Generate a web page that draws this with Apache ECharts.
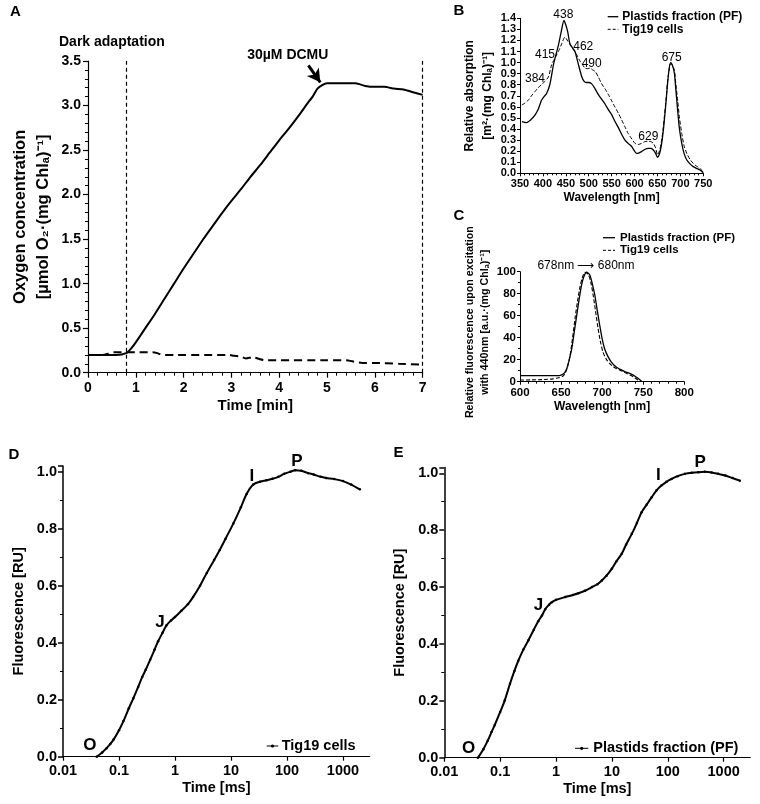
<!DOCTYPE html>
<html><head><meta charset="utf-8">
<script src="https://cdn.jsdelivr.net/npm/echarts@6/dist/echarts.min.js"></script>
<style>html,body{margin:0;padding:0;background:#fff}#c{width:760px;height:804px}</style>
</head><body><div id="c"></div>
<script>
// ---------- Panel A: oxygen concentration vs time ----------
const aTimeSolid = [0,0.2,0.4,0.6,0.8,0.9,1.0,1.2,1.4,1.6,1.8,2.0,2.2,2.4,2.6,2.8,3.0,3.2,3.4,3.6,3.8,4.0,4.2,4.4,4.6,4.7,4.8,4.9,5.0,5.2,5.4,5.6,5.8,6.0,6.2,6.4,6.6,6.8,7.0];
const aO2Solid   = [0.2,0.2,0.2,0.2,0.22,0.27,0.34,0.50,0.66,0.83,1.00,1.17,1.33,1.49,1.64,1.79,1.93,2.06,2.20,2.33,2.47,2.61,2.74,2.88,3.03,3.10,3.19,3.23,3.25,3.25,3.25,3.25,3.22,3.21,3.21,3.19,3.18,3.15,3.12];
const aTimeDashed = [0,0.3,0.4,0.5,0.7,1.0,1.35,1.45,1.55,1.8,2.5,2.95,3.05,3.2,3.3,3.45,3.6,3.7,4.0,5.0,5.4,5.6,5.8,6.0,6.5,7.0];
const aO2Dashed   = [0.2,0.2,0.21,0.23,0.23,0.23,0.23,0.22,0.2,0.2,0.2,0.2,0.19,0.18,0.16,0.175,0.15,0.14,0.14,0.14,0.14,0.12,0.11,0.11,0.1,0.09];

// ---------- Panel B: absorption spectra ----------
const bWavePF = [354,364,374,383,390,397,404,408,415,423,429,434,440,446,450,454,459,465,470,477,485,490,495,500,506,513,521,528,535,542,550,557,565,572,579,586,594,600,605,610,615,622,630,636,641,646,650,654,658,662,665,669,672,676,679,683,687,690,694,698,703,708,714,721,728,735,743,750];
const bAbsPF  = [0.467,0.458,0.485,0.527,0.58,0.66,0.70,0.72,0.80,0.98,1.08,1.16,1.28,1.38,1.34,1.28,1.17,1.13,1.10,0.99,0.87,0.83,0.82,0.82,0.81,0.77,0.71,0.67,0.63,0.58,0.53,0.47,0.41,0.35,0.30,0.27,0.24,0.20,0.18,0.185,0.196,0.215,0.226,0.225,0.21,0.18,0.145,0.17,0.24,0.36,0.48,0.66,0.81,0.96,1.0,0.97,0.90,0.76,0.57,0.40,0.27,0.18,0.12,0.085,0.06,0.045,0.03,0.005];
const bWaveTig = [354,361,368,375,383,390,397,404,412,419,425,430,436,441,448,455,463,469,474,480,485,492,498,503,508,514,521,528,536,543,550,557,565,572,579,586,594,601,608,615,622,630,636,641,646,650,654,658,662,665,669,672,676,679,683,687,690,694,698,703,708,714,721,728,735,743,750];
const bAbsTig  = [0.617,0.635,0.66,0.70,0.74,0.775,0.80,0.83,0.87,0.98,1.03,1.07,1.12,1.17,1.23,1.19,1.14,1.10,1.07,1.02,0.99,0.95,0.945,0.95,0.935,0.92,0.87,0.81,0.76,0.71,0.655,0.60,0.54,0.48,0.42,0.36,0.31,0.27,0.26,0.27,0.285,0.29,0.285,0.27,0.23,0.166,0.2,0.27,0.39,0.51,0.68,0.83,0.95,0.99,0.975,0.93,0.81,0.66,0.50,0.36,0.25,0.18,0.125,0.09,0.065,0.045,0.005];
const bPeakTexts = ['438','415','462','490','384','675','629'];

// ---------- Panel C: fluorescence emission spectra ----------
const cWavePF = [600,610,620,630,640,645,650,654,657,660,663,666,669,672,675,678,681,685,688,691,694,697,700,703,707,711,716,720,724,728,732,736,740,744,748];
const cFluPF  = [5.5,5.5,5.5,5.5,5.5,5.5,6,8,12,20,30,45,60,75,88,96,99.5,97,89,79,65,51.5,39,30,23,18,14,12,10.5,9,8,6.7,5,3,0.5];
const cWaveTig = [600,615,630,640,647,652,655,658,661,664,667,670,673,676,679,683,686,689,692,695,698,701,705,709,713,717,722,726,730,734,738,742,746];
const cFluTig  = [1.5,1.7,2,2.6,3.6,5,7.6,14,24,40,57.6,73,86,95,99.5,97.6,91,79,64,48.5,36,27,20.5,16.7,14,12,10.5,9,7.5,6,4.5,2.4,0];

// ---------- Panel D: OJIP, Tig19 cells ----------
const dTime  = [0.04,0.05,0.06,0.07,0.08,0.1,0.12,0.15,0.18,0.22,0.26,0.3,0.36,0.43,0.5,0.6,0.7,0.85,1.0,1.3,1.7,2.1,2.8,3.7,5,6.3,8,11,15,19,25,33,43,55,70,90,115,140,180,240,300,400,500,700,1000,1400,2000];
const dFluor = [0.0,0.015,0.03,0.045,0.06,0.093,0.125,0.17,0.205,0.245,0.28,0.305,0.34,0.375,0.405,0.435,0.46,0.478,0.49,0.512,0.535,0.56,0.6,0.645,0.69,0.725,0.765,0.818,0.875,0.922,0.955,0.965,0.97,0.975,0.982,0.993,1.0,1.005,1.003,0.995,0.99,0.982,0.978,0.974,0.967,0.955,0.938];

// ---------- Panel E: OJIP, plastids fraction ----------
const eTime  = [0.04,0.05,0.06,0.07,0.08,0.1,0.12,0.15,0.18,0.21,0.26,0.32,0.4,0.48,0.56,0.64,0.75,0.84,1.0,1.46,2.0,2.5,3.3,4.4,5.5,6.6,8,10,12,15,18,22.7,28,34,42,51.6,63,77,95,117,150,203,270,352,460,610,800,1070,1450,1950];
const eFluor = [0.0,0.03,0.06,0.09,0.115,0.161,0.2,0.26,0.305,0.34,0.38,0.413,0.45,0.48,0.5,0.522,0.538,0.547,0.555,0.565,0.572,0.578,0.587,0.6,0.61,0.623,0.64,0.665,0.69,0.717,0.75,0.787,0.825,0.863,0.89,0.916,0.94,0.957,0.97,0.98,0.99,0.998,1.002,1.004,1.005,1.003,0.998,0.992,0.983,0.974];
const logTickLabels = ['0.01','0.1','1','10','100','1000'];

const zip = (xs, ys) => xs.map((x, i) => [x, ys[i]]);
const FF = '"Liberation Sans", Arial, sans-serif';
const BLACK = '#000';

function axisBase(o) {
  const a = {
    gridIndex: o.grid, type: o.type || 'value', min: o.min, max: o.max,
    axisLine: { show: true, onZero: false, lineStyle: { color: BLACK, width: o.lw || 1.2 } },
    axisTick: { show: true, length: o.tick || 4, lineStyle: { color: BLACK, width: o.lw || 1.2 } },
    minorTick: { show: !!o.minor, splitNumber: o.minor || 5, length: o.minorLen || 2.5, lineStyle: { color: BLACK, width: 1 } },
    splitLine: { show: false }, minorSplitLine: { show: false },
    axisLabel: { color: BLACK, fontFamily: FF, fontWeight: 'bold', fontSize: o.fs, margin: o.margin, showMaxLabel: o.showMax !== false ? null : false, formatter: o.fmt },
    name: o.name, nameLocation: 'middle', nameGap: o.gap,
    nameTextStyle: { color: BLACK, fontFamily: FF, fontWeight: 'bold', fontSize: o.nfs, lineHeight: o.nlh, padding: o.npad || 0 }
  };
  if (o.interval !== undefined) a.interval = o.interval;
  if (o.rotate) a.nameRotate = 90;
  if (o.type === 'log') a.logBase = 10;
  return a;
}
const fix1 = v => v.toFixed(1);
const logFmt = v => { const e = Math.round(Math.log10(v)); return logTickLabels[e + 2] || ''; };

const chart = echarts.init(document.getElementById('c'), null, { renderer: 'canvas' });

const option = {
  animation: false,
  backgroundColor: '#fff',
  grid: [
    { left: 88, top: 61, width: 334.6, height: 311.7 },
    { left: 520, top: 18.3, width: 183.3, height: 155 },
    { left: 520, top: 271.7, width: 164.3, height: 110 },
    { left: 63, top: 466, width: 306.7, height: 290.7 },
    { left: 444.3, top: 467.6, width: 306, height: 290.1 }
  ],
  xAxis: [
    axisBase({ grid: 0, min: 0, max: 7, interval: 1, minor: 5, tick: 5, minorLen: 3, fs: 14, margin: 8, name: 'Time [min]', gap: 26, nfs: 15 }),
    axisBase({ grid: 1, min: 350, max: 750, interval: 50, minor: 5, tick: 3, minorLen: 2, fs: 11, margin: 5, name: 'Wavelength [nm]', gap: 18, nfs: 12, lw: 1 }),
    axisBase({ grid: 2, min: 600, max: 800, interval: 50, minor: 5, tick: 3, minorLen: 2, fs: 11.5, margin: 5, name: 'Wavelength [nm]', gap: 19, nfs: 12, lw: 1 }),
    axisBase({ grid: 3, type: 'log', min: 0.01, max: 3000, tick: 4, fs: 14.5, margin: 7, name: 'Time [ms]', gap: 24, nfs: 14.5, fmt: logFmt, showMax: false }),
    axisBase({ grid: 4, type: 'log', min: 0.01, max: 3000, tick: 4, fs: 14.5, margin: 7, name: 'Time [ms]', gap: 24, nfs: 14.5, fmt: logFmt, showMax: false })
  ],
  yAxis: [
    axisBase({ grid: 0, min: 0, max: 3.5, interval: 0.5, minor: 5, tick: 5, minorLen: 3, fs: 14, margin: 7, fmt: fix1, rotate: true,
      name: 'Oxygen concentration\n[µmol O₂·(mg Chlₐ)⁻¹]', gap: 33, nfs: 16.5, nlh: 23 }),
    axisBase({ grid: 1, min: 0, max: 1.4, interval: 0.1, tick: 3, fs: 11, margin: 4, fmt: fix1, rotate: true, lw: 1,
      name: 'Relative absorption\n[m²·(mg Chlₐ)⁻¹]', gap: 19, nfs: 12, nlh: 18 }),
    axisBase({ grid: 2, min: 0, max: 100, interval: 20, minor: 2, tick: 3, minorLen: 2, fs: 11.5, margin: 4, rotate: true, lw: 1,
      name: 'Relative fluorescence upon excitation\nwith 440nm [a.u.·(mg Chlₐ)⁻¹]', gap: 27, nfs: 10.7, nlh: 15, npad: [0, 0, 0, 9] }),
    axisBase({ grid: 3, min: 0, max: 1.02, interval: 0.2, minor: 2, tick: 5, minorLen: 3, fs: 14.5, margin: 6, fmt: fix1, rotate: true, showMax: false,
      name: 'Fluorescence [RU]', gap: 37, nfs: 14.5, lw: 1.5 }),
    axisBase({ grid: 4, min: 0, max: 1.02, interval: 0.2, minor: 2, tick: 5, minorLen: 3, fs: 14.5, margin: 6, fmt: fix1, rotate: true, showMax: false,
      name: 'Fluorescence [RU]', gap: 37, nfs: 14.5, lw: 1.5 })
  ],
  series: [
    { name: 'O2 solid', type: 'line', xAxisIndex: 0, yAxisIndex: 0, data: zip(aTimeSolid, aO2Solid), symbol: 'none', smooth: 0.2,
      lineStyle: { color: BLACK, width: 2 },
      markLine: { silent: true, symbol: ['none', 'arrow'], symbolSize: [11, 13], label: { show: false },
        lineStyle: { color: BLACK, width: 3, type: 'solid' },
        data: [[{ coord: [4.61, 3.45] }, { coord: [4.86, 3.26] }]] } },
    { name: 'O2 dashed', type: 'line', xAxisIndex: 0, yAxisIndex: 0, data: zip(aTimeDashed, aO2Dashed), symbol: 'none', smooth: 0.2,
      lineStyle: { color: BLACK, width: 2, type: [8, 5] },
      markLine: { silent: true, symbol: 'none', label: { show: false },
        lineStyle: { color: BLACK, width: 1.2, type: [4, 3] },
        data: [{ xAxis: 0.8 }, { xAxis: 7 }] } },
    { name: 'Plastids fraction (PF)', type: 'line', xAxisIndex: 1, yAxisIndex: 1, data: zip(bWavePF, bAbsPF), symbol: 'none', smooth: 0.25,
      lineStyle: { color: BLACK, width: 1.3 } },
    { name: 'Tig19 cells', type: 'line', xAxisIndex: 1, yAxisIndex: 1, data: zip(bWaveTig, bAbsTig), symbol: 'none', smooth: 0.25,
      lineStyle: { color: BLACK, width: 1, type: [4, 2] } },
    { name: 'Plastids fraction (PF) C', type: 'line', xAxisIndex: 2, yAxisIndex: 2, data: zip(cWavePF, cFluPF), symbol: 'none', smooth: 0.25,
      lineStyle: { color: BLACK, width: 1.3 } },
    { name: 'Tig19 cells C', type: 'line', xAxisIndex: 2, yAxisIndex: 2, data: zip(cWaveTig, cFluTig), symbol: 'none', smooth: 0.25,
      lineStyle: { color: BLACK, width: 1.1, type: [4, 2] } },
    { name: 'Tig19 cells D', type: 'line', xAxisIndex: 3, yAxisIndex: 3, data: zip(dTime, dFluor), smooth: 0.3,
      symbol: 'circle', symbolSize: 2.5, showAllSymbol: true, itemStyle: { color: BLACK },
      lineStyle: { color: BLACK, width: 2 } },
    { name: 'Plastids fraction (PF) E', type: 'line', xAxisIndex: 4, yAxisIndex: 4, data: zip(eTime, eFluor), smooth: 0.3,
      symbol: 'circle', symbolSize: 2.5, showAllSymbol: true, itemStyle: { color: BLACK },
      lineStyle: { color: BLACK, width: 2 } }
  ]
};
chart.setOption(option);

// ---------- annotations, anchored in data coordinates ----------
const annotations = [
  { g: 0, at: [0.50, 3.71], text: 'Dark adaptation', font: 'bold 14px ' + FF },
  { g: 0, at: [4.18, 3.57], text: '30µM DCMU', font: 'bold 14px ' + FF },
  { g: 1, at: [444.5, 1.43], text: bPeakTexts[0], font: '12px ' + FF },
  { g: 1, at: [404.5, 1.07], text: bPeakTexts[1], font: '12px ' + FF },
  { g: 1, at: [488.1, 1.143], text: bPeakTexts[2], font: '12px ' + FF },
  { g: 1, at: [506.4, 0.993], text: bPeakTexts[3], font: '12px ' + FF },
  { g: 1, at: [382.7, 0.852], text: bPeakTexts[4], font: '12px ' + FF },
  { g: 1, at: [681, 1.044], text: bPeakTexts[5], font: '12px ' + FF },
  { g: 1, at: [630, 0.33], text: bPeakTexts[6], font: '12px ' + FF },
  { g: 2, at: [680.3, 105.2], text: '678nm ⟶ 680nm', font: '12px ' + FF },
  { g: 3, at: [0.0303, 0.041], text: 'O', font: 'bold 17px ' + FF },
  { g: 3, at: [0.54, 0.471], text: 'J', font: 'bold 17px ' + FF },
  { g: 3, at: [23.7, 0.985], text: 'I', font: 'bold 17px ' + FF },
  { g: 3, at: [151, 1.037], text: 'P', font: 'bold 17px ' + FF },
  { g: 4, at: [0.0272, 0.034], text: 'O', font: 'bold 17px ' + FF },
  { g: 4, at: [0.486, 0.536], text: 'J', font: 'bold 17px ' + FF },
  { g: 4, at: [68, 0.992], text: 'I', font: 'bold 17px ' + FF },
  { g: 4, at: [380, 1.039], text: 'P', font: 'bold 17px ' + FF }
];
function txt(x, y, text, font, align) {
  return { type: 'text', x: x, y: y, silent: true,
    style: { text: text, font: font, fill: BLACK, textAlign: align || 'center', textVerticalAlign: 'middle', align: align || 'center', verticalAlign: 'middle' } };
}
function seg(x1, y1, x2, y2, w, dash) {
  return { type: 'line', silent: true, shape: { x1: x1, y1: y1, x2: x2, y2: y2 }, style: { stroke: BLACK, lineWidth: w, lineDash: dash || null } };
}
const graphics = [];
annotations.forEach(a => {
  const p = chart.convertToPixel({ gridIndex: a.g }, a.at);
  graphics.push(txt(p[0], p[1], a.text, a.font));
});
// panel letters
const letterFont = 'bold 15px ' + FF;
graphics.push(txt(15.5, 12, 'A', letterFont), txt(459, 11, 'B', letterFont), txt(459, 216, 'C', letterFont),
  txt(14, 455, 'D', letterFont), txt(398.5, 453, 'E', letterFont));
// legends
const lgB = 'bold 12px ' + FF, lgC = 'bold 11.5px ' + FF, lgD = 'bold 14.5px ' + FF;
graphics.push(
  seg(607.7, 16.7, 618.3, 16.7, 1.3), txt(622.3, 16.7, 'Plastids fraction (PF)', lgB, 'left'),
  seg(607.7, 29.3, 618.3, 29.3, 1, [3, 2]), txt(622.3, 29.3, 'Tig19 cells', lgB, 'left'),
  seg(603, 237.7, 615, 237.7, 1.3), txt(620, 237.7, 'Plastids fraction (PF)', lgC, 'left'),
  seg(603, 250.3, 615, 250.3, 1, [3, 2]), txt(620, 250.3, 'Tig19 cells', lgC, 'left'),
  seg(266.7, 746, 278.3, 746, 1), { type: 'circle', silent: true, shape: { cx: 272.5, cy: 746, r: 1.6 }, style: { fill: BLACK } },
  txt(281.7, 746, 'Tig19 cells', lgD, 'left'),
  seg(575, 748.3, 588.3, 748.3, 1), { type: 'circle', silent: true, shape: { cx: 581.7, cy: 748.3, r: 1.6 }, style: { fill: BLACK } },
  txt(593.3, 748.3, 'Plastids fraction (PF)', lgD, 'left')
);
chart.setOption({ graphic: graphics });
</script>
</body></html>
